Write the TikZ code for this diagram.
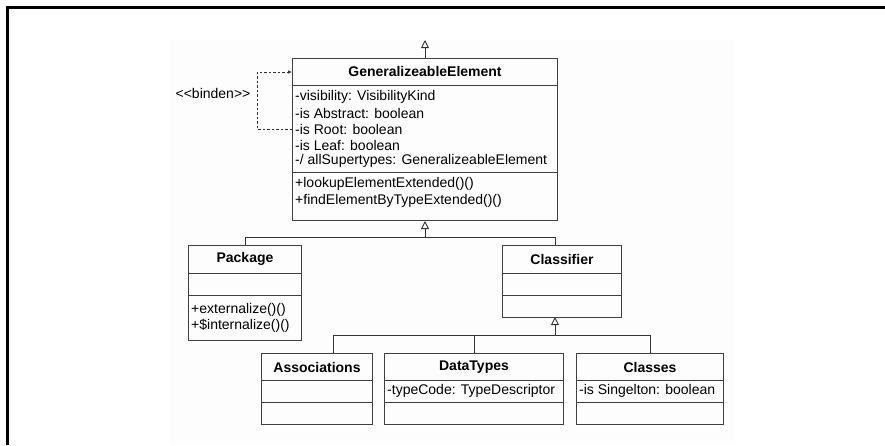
\documentclass[tikz,border=0pt]{standalone}
\usepackage{fontspec}
\setmainfont{Liberation Sans}
\usetikzlibrary{arrows.meta,calc}
\begin{document}
\begin{tikzpicture}[x=1pt,y=-1pt,
  font=\fontsize{14}{16}\selectfont,
  box/.style={draw=black!75, line width=1pt, inner sep=0pt, anchor=north west},
  sep/.style={draw=black!75, line width=1pt},
  txt/.style={anchor=west, inner sep=0pt},
  hd/.style={inner sep=0pt, font=\fontsize{14}{16}\selectfont\bfseries},
  conn/.style={draw=black!80, line width=0.9pt},
  gentip/.style={-{Triangle[open,length=8pt,width=8pt]}},
  frame/.style={line width=2.2pt, draw=black}]
\useasboundingbox (0,0) rectangle (885,445);
\fill[black!0.8] (170,40) rectangle (735,445);
% frame
\draw[frame] (885,7.5) -- (7.5,7.5) -- (7.5,445);

% GeneralizeableElement
\node[box, minimum width=265pt, minimum height=162pt] (ge) at (292,58) {};
\draw[sep] ($(ge.north west)+(0,27)$) -- ($(ge.north east)+(0,27)$);
\draw[sep] ($(ge.north west)+(0,114)$) -- ($(ge.north east)+(0,114)$);
\node[hd] (geh) at ($(ge.north)+(0,13.5)$) {GeneralizeableElement};
\node[txt] (ga1) at (295,97) {-visibility: VisibilityKind};
\node[txt] (ga2) at (295,113) {-is Abstract: boolean};
\node[txt] (ga3) at (295,129) {-is Root: boolean};
\node[txt] (ga4) at (295,145) {-is Leaf: boolean};
\node[txt] (ga5) at (295,161) {-/ allSupertypes: GeneralizeableElement};
\node[txt] (go1) at (295,184) {+lookupElementExtended()()};
\node[txt] (go2) at (295,201) {+findElementByTypeExtended()()};

% top generalization
\coordinate (gtop) at ($(ge.north)+(0,-18)$);
\draw[conn, gentip] (ge.north) -- (gtop);

% binden self-dependency
\coordinate (bd1) at ($(ge.north west)+(-35,71)$);
\coordinate (bd2) at ($(ge.north west)+(-35,14)$);
\draw[conn, dashed, dash pattern=on 2.5pt off 2pt, -{Latex[length=4pt,width=3.5pt]}]
  ($(ge.north west)+(0,71)$) -- (bd1) -- (bd2) -- ($(ge.north west)+(0,14)$);
\node[inner sep=0pt] (bind) at (213,93) {<{}<binden>{}>};

% Package
\node[box, minimum width=113pt, minimum height=95pt] (pk) at (188,245) {};
\draw[sep] ($(pk.north west)+(0,28)$) -- ($(pk.north east)+(0,28)$);
\draw[sep] ($(pk.north west)+(0,50)$) -- ($(pk.north east)+(0,50)$);
\node[hd] (pkh) at ($(pk.north)+(0,14)$) {Package};
\node[txt] (po1) at (191,310) {+externalize()()};
\node[txt] (po2) at (191,326) {+\$internalize()()};

% Classifier
\node[box, minimum width=119pt, minimum height=72pt] (cl) at (502,245) {};
\draw[sep] ($(cl.north west)+(0,28)$) -- ($(cl.north east)+(0,28)$);
\draw[sep] ($(cl.north west)+(0,50)$) -- ($(cl.north east)+(0,50)$);
\node[hd] (clh) at ($(cl.north)+(0,14)$) {Classifier};

% generalization to GE
\coordinate (j1) at ($(ge.south)+(0,16)$);
\draw[conn, gentip] (pk.north) |- (j1) -- (ge.south);
\draw[conn] ($(cl.north)+(-6.5,0)$) |- (j1);

% bottom classes
\node[box, minimum width=111pt, minimum height=71pt] (as) at (261,353) {};
\node[box, minimum width=179pt, minimum height=71pt] (dt) at (384,353) {};
\node[box, minimum width=147pt, minimum height=71pt] (cs) at (576,353) {};
\foreach \b in {as,dt,cs}{
  \draw[sep] ($(\b.north west)+(0,27)$) -- ($(\b.north east)+(0,27)$);
  \draw[sep] ($(\b.north west)+(0,49)$) -- ($(\b.north east)+(0,49)$);
}
\node[hd] (ash) at ($(as.north)+(0,14)$) {Associations};
\node[hd] (dth) at ($(dt.north)+(0,14)$) {DataTypes};
\node[hd] (csh) at ($(cs.north)+(0,14)$) {Classes};
\node[txt] (dta) at (387,391) {-typeCode: TypeDescriptor};
\node[txt] (csa) at (579,391) {-is Singelton: boolean};

% generalization to Classifier
\coordinate (j2) at (555,335);
\draw[conn, gentip] (j2) -- (555,317);
\draw[conn] ($(as.north)+(16,0)$) |- (j2);
\draw[conn] (cs.north) |- (j2);
\draw[conn] (dt.north) -- (dt.north |- j2);
\end{tikzpicture}
\end{document}
